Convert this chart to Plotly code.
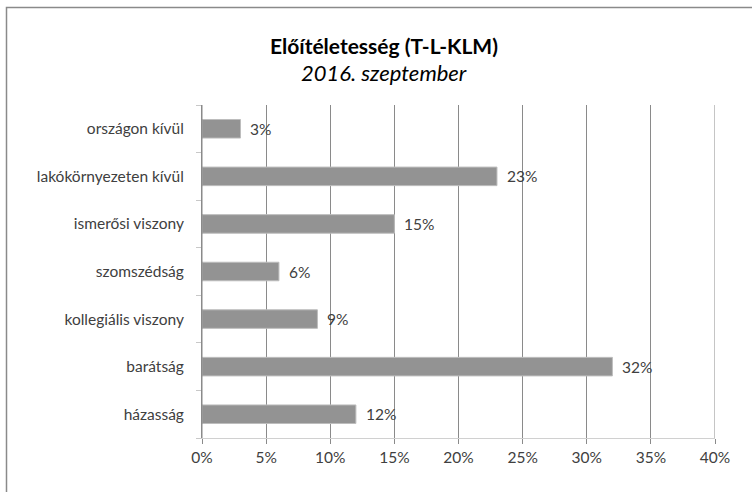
import plotly.graph_objects as go

categories = ["házasság", "barátság", "kollegiális viszony", "szomszédság",
              "ismerősi viszony", "lakókörnyezeten kívül", "országon kívül"]
values = [12, 32, 9, 6, 15, 23, 3]
tick_vals = [0, 5, 10, 15, 20, 25, 30, 35, 40]
tick_text = ["0%", "5%", "10%", "15%", "20%", "25%", "30%", "35%", "40%"]
title_text = "Előítéletesség (T-L-KLM)"
subtitle_text = "2016. szeptember"

W, H = 752, 492
L, T = 202, 105
pw, ph = 513, 333
R, B = W - L - pw, H - T - ph

def px_x(x):
    return (x - L) / pw

def px_y(y):
    return 1 + (T - y) / ph

FONT = "Lato, 'Open Sans', sans-serif"
TXT = "#404040"

fig = go.Figure()
fig.add_trace(go.Bar(
    x=values, y=categories, orientation="h",
    marker=dict(color="#939393", line=dict(color="#bdbdbd", width=1)),
    hoverinfo="skip",
))

annotations = [
    dict(x=v, y=c, xref="x", yref="y", text=f"{v}%", showarrow=False,
         xanchor="left", xshift=8, font=dict(family=FONT, size=15.5, color=TXT))
    for c, v in zip(categories, values)
]
annotations += [
    dict(x=px_x(384), y=px_y(45), xref="paper", yref="paper", text=f"<b>{title_text}</b>",
         showarrow=False, xanchor="center", yanchor="middle",
         font=dict(family=FONT, size=21, color="#000000")),
    dict(x=px_x(384), y=px_y(73), xref="paper", yref="paper", text=f"<i>{subtitle_text}</i>",
         showarrow=False, xanchor="center", yanchor="middle",
         font=dict(family=FONT, size=22, color="#000000")),
]

fig.update_layout(
    width=W, height=H,
    margin=dict(l=L, r=R, t=T, b=B, pad=0),
    paper_bgcolor="white", plot_bgcolor="white",
    showlegend=False,
    bargap=0.61,
    annotations=annotations,
    shapes=[
        dict(type="rect", xref="paper", yref="paper",
             x0=px_x(6.5), x1=px_x(790), y0=px_y(530), y1=px_y(7.5),
             line=dict(color="#8a8a8a", width=1.5), fillcolor="rgba(0,0,0,0)", layer="below"),
        dict(type="line", xref="x", yref="paper", x0=0, x1=0, y0=0, y1=1,
             line=dict(color="#8a8a8a", width=1), layer="above"),
        dict(type="line", xref="x", yref="paper", x0=40, x1=40, y0=0, y1=1,
             line=dict(color="#8a8a8a", width=1), layer="below"),
    ],
    xaxis=dict(
        range=[0, 40], tickvals=tick_vals, ticktext=tick_text,
        showgrid=True, gridcolor="#8a8a8a", gridwidth=1, zeroline=False,
        showline=True, linecolor="#d0d0d0", linewidth=1,
        ticks="outside", ticklen=5, tickcolor="#8a8a8a",
        tickfont=dict(family=FONT, size=15.5, color=TXT), fixedrange=True,
    ),
    yaxis=dict(
        categoryorder="array", categoryarray=categories,
        showgrid=False, zeroline=False,
        showline=True, linecolor="#8a8a8a",
        ticks="outside", tickson="boundaries", ticklen=5, tickcolor="#c8c8c8",
        tickfont=dict(family=FONT, size=15.5, color=TXT), ticklabelstandoff=14,
        fixedrange=True,
    ),
)

fig.write_html("out.html", config={"displayModeBar": False},
               post_script="document.body.style.margin='0';")
